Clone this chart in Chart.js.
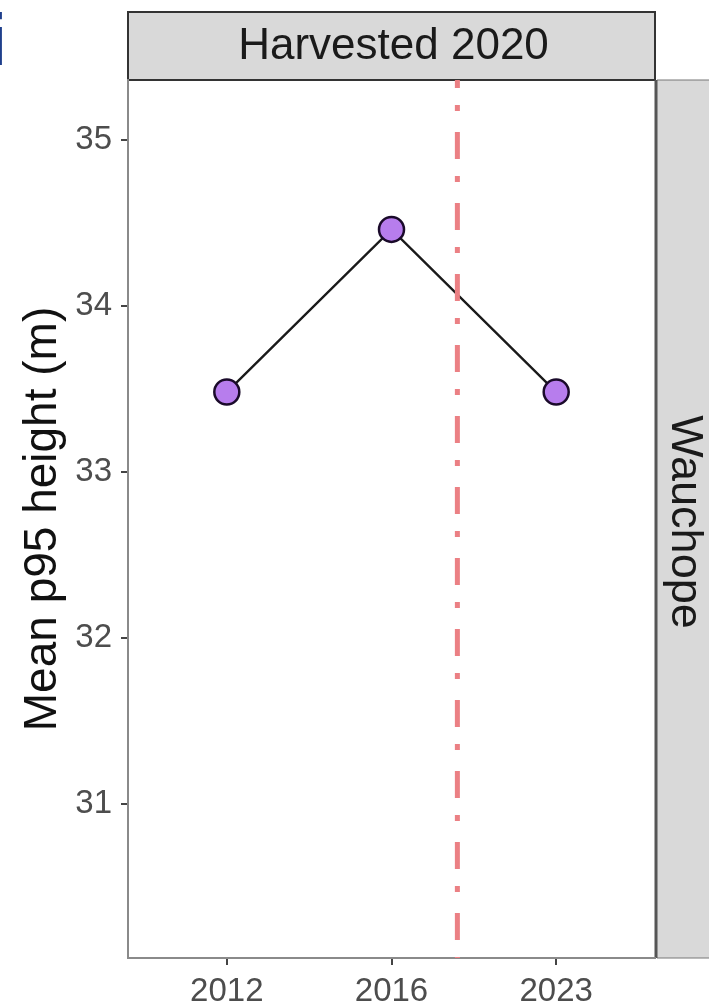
<!DOCTYPE html>
<html>
<head>
<meta charset="utf-8">
<script src="https://cdn.jsdelivr.net/npm/chart.js@4.4.0/dist/chart.umd.min.js"></script>
<style>
  html, body { margin: 0; padding: 0; background: #fff; }
  #wrap { position: relative; width: 709px; height: 1006px; }
</style>
</head>
<body>
<div id="wrap"><canvas id="chart" width="709" height="1006"></canvas></div>
<script>
// Data.
const years = ['2012', '2016', '2023'];
const p95Height = [33.48, 34.46, 33.48];
const yTicks = [31, 32, 33, 34, 35];
const yRange = [30.07, 35.36];
const harvestPos = 2.4;          // harvest marker between 2016 and 2023
const facetTop = 'Harvested 2020';
const facetRight = 'Wauchope';

const FONT = "'Liberation Sans', Arial, sans-serif";

// Facet strips + panel letter drawn around the plot area.
const stripPlugin = {
    id: 'strips',
    beforeDraw(chart) {
        const { ctx, chartArea: a } = chart;
        ctx.save();
        // top strip
        ctx.fillStyle = '#d9d9d9';
        ctx.fillRect(a.left, 12, a.right - a.left, a.top - 12);
        ctx.strokeStyle = '#333';
        ctx.lineWidth = 2;
        ctx.strokeRect(a.left, 12, a.right - a.left, a.top - 12);
        ctx.fillStyle = '#1a1a1a';
        ctx.font = '44px ' + FONT;
        ctx.textAlign = 'center';
        ctx.textBaseline = 'middle';
        ctx.fillText(facetTop, (a.left + a.right) / 2 + 2, (12 + a.top) / 2 + 1);

        // right strip
        ctx.fillStyle = '#d9d9d9';
        ctx.fillRect(a.right + 2, a.top, 60, a.bottom - a.top);
        ctx.beginPath();
        ctx.moveTo(a.right + 2, a.top);
        ctx.lineTo(709, a.top);
        ctx.moveTo(a.right + 2, a.bottom);
        ctx.lineTo(709, a.bottom);
        ctx.strokeStyle = '#777';
        ctx.lineWidth = 1;
        ctx.stroke();
        ctx.beginPath();
        ctx.moveTo(a.right + 1, a.top);
        ctx.lineTo(a.right + 1, a.bottom);
        ctx.strokeStyle = '#555';
        ctx.lineWidth = 3;
        ctx.stroke();
        ctx.save();
        ctx.translate(a.right + 29, (a.top + a.bottom) / 2 + 3);
        ctx.rotate(Math.PI / 2);
        ctx.fillStyle = '#1a1a1a';
        ctx.font = '45px ' + FONT;
        ctx.textAlign = 'center';
        ctx.textBaseline = 'middle';
        ctx.fillText(facetRight, 0, 0);
        ctx.restore();

        // cropped panel letter at far left
        ctx.fillStyle = '#1f3f8c';
        ctx.font = 'bold 72px ' + FONT;
        ctx.textAlign = 'right';
        ctx.textBaseline = 'alphabetic';
        ctx.fillText('i', 7, 65);
        ctx.restore();
    }
};

new Chart(document.getElementById('chart'), {
    type: 'line',
    data: {
        datasets: [{
            label: 'harvest',
            data: [{ x: harvestPos, y: yRange[1] }, { x: harvestPos, y: yRange[0] }],
            borderColor: '#eb8084',
            borderWidth: 5,
            borderDash: [27, 17, 6, 21],
            borderDashOffset: 19,
            pointRadius: 0,
            order: 0
        }, {
            label: 'p95',
            data: p95Height.map((v, i) => ({ x: i + 1, y: v })),
            borderColor: '#1a1a1a',
            borderWidth: 2.4,
            pointRadius: 12.5,
            pointBackgroundColor: '#b77ded',
            pointBorderColor: '#1a0a2a',
            pointBorderWidth: 2.5,
            order: 1
        }]
    },
    options: {
        responsive: false,
        animation: false,
        layout: { padding: { top: 80, right: 54, bottom: 0, left: 0 } },
        plugins: { legend: { display: false }, tooltip: { enabled: false } },
        scales: {
            x: {
                type: 'linear',
                min: 0.4,
                max: 3.6,
                afterBuildTicks: s => { s.ticks = years.map((_, i) => ({ value: i + 1 })); },
                afterFit: s => { s.height = 48; },
                border: { display: true, color: '#8a8a8a', width: 2 },
                grid: { drawOnChartArea: false, drawTicks: true, tickLength: 7, color: '#444', lineWidth: 2 },
                ticks: {
                    padding: 7,
                    color: '#4d4d4d',
                    font: { family: FONT, size: 33 },
                    callback: v => years[v - 1] || ''
                }
            },
            y: {
                min: yRange[0],
                max: yRange[1],
                afterBuildTicks: s => { s.ticks = yTicks.map(v => ({ value: v })); },
                afterFit: s => { s.width = 128; },
                border: { display: true, color: '#8a8a8a', width: 2 },
                grid: { drawOnChartArea: false, drawTicks: true, tickLength: 7, color: '#444', lineWidth: 2 },
                ticks: {
                    padding: 9,
                    color: '#4d4d4d',
                    font: { family: FONT, size: 33 }
                },
                title: {
                    display: true,
                    text: 'Mean p95 height (m)',
                    color: '#111',
                    font: { family: FONT, size: 46 },
                    padding: { top: 16, bottom: 0 }
                }
            }
        }
    },
    plugins: [stripPlugin]
});
</script>
</body>
</html>
